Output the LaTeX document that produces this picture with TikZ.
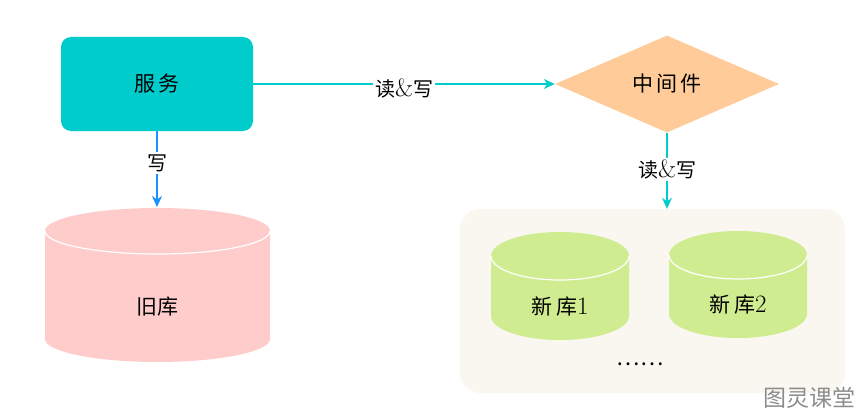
\documentclass[tikz,border=0pt]{standalone}
\usepackage{fontspec}
\newfontfamily\cjk{Noto Sans CJK SC}
\usetikzlibrary{shapes.geometric,arrows.meta}
\definecolor{svcc}{RGB}{0,204,204}
\definecolor{edgec}{RGB}{0,204,204}
\definecolor{bluec}{RGB}{24,144,255}
\definecolor{pinkc}{RGB}{255,204,204}
\definecolor{peachc}{RGB}{255,204,153}
\definecolor{greenc}{RGB}{208,236,144}
\definecolor{grpc}{RGB}{249,247,240}
\definecolor{wmc}{RGB}{140,140,140}
\newcommand\latn[1]{{\rmfamily\fontsize{25}{26}\selectfont #1}}
\newcommand\dbcyl[6]{%
  \fill[#6] ({#1-#4},{-#2}) -- ({#1-#4},{-#3})
    arc[start angle=180,end angle=360,x radius=#4,y radius=#5]
    -- ({#1+#4},{-#2})
    arc[start angle=0,end angle=180,x radius=#4,y radius=#5] -- cycle;
  \draw[white,line width=1.2pt] ({#1-#4},{-#2})
    arc[start angle=180,end angle=360,x radius=#4,y radius=#5];
}
\begin{document}
\begin{tikzpicture}[x=1pt,y=1pt,
  txt/.style={font=\fontsize{21}{24}\selectfont,text=black},
  lbl/.style={font=\fontsize{20}{23}\selectfont,fill=white,text=black,inner sep=2pt},
  arr/.style={line width=1.3pt,-{Stealth[length=11pt,width=10pt]}}]
\useasboundingbox (0,0) rectangle (868,-420);
% container
\node[fill=grpc,rounded corners=20pt,minimum width=385,minimum height=184,inner sep=0] (grp) at (652.5,-301) {};
% service
\node[fill=svcc,rounded corners=10pt,minimum width=192,minimum height=94,inner sep=0,txt] (svc) at (157,-84) {\cjk 服\,务};
% middleware
\node[diamond,fill=peachc,minimum width=224,minimum height=97,inner sep=0,txt] (mid) at (667,-84) {\cjk 中\,间\,件};
% cylinders
\dbcyl{157.5}{231}{339}{112.5}{23}{pinkc}
\dbcyl{560}{256}{316}{69}{24}{greenc}
\dbcyl{738}{255}{314}{69}{24}{greenc}
\coordinate (oldtop) at (157,-207);
\node[txt] (old) at (157.5,-307) {\cjk 旧库};
\node[txt] (new1) at (560,-307) {\cjk 新\,库\latn{1}};
\node[txt] (new2) at (738,-305) {\cjk 新\,库\latn{2}};
\node[font=\fontsize{22}{24}\selectfont] (dots) at (640,-364) {\cjk ……};
% connectors
\draw[arr,edgec] (svc.east) -- node[lbl,yshift=-4pt] {\cjk 读\latn{\&}写} (mid.west);
\draw[arr,bluec] (svc.south) -- node[lbl,pos=0.42] {\cjk 写} (oldtop);
\draw[arr,edgec] (mid.south) -- node[lbl,pos=0.48] {\cjk 读\latn{\&}写} (mid.south |- grp.north);
% watermark
\node[wmc,font=\fontsize{23}{26}\selectfont,anchor=east] (wm) at (859,-398) {\cjk 图灵课堂};
\end{tikzpicture}
\end{document}
